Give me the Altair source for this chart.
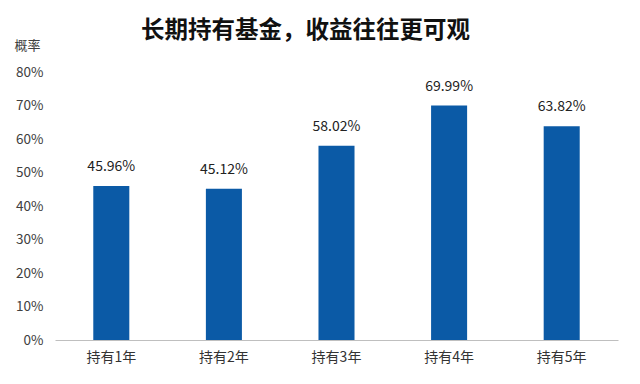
import altair as alt
import pandas as pd

categories = ["持有1年", "持有2年", "持有3年", "持有4年", "持有5年"]
probabilities = [45.96, 45.12, 58.02, 69.99, 63.82]
y_ticks = [0, 10, 20, 30, 40, 50, 60, 70, 80]

df = pd.DataFrame({"cat": categories, "p": probabilities})
df["label"] = df["p"].map(lambda v: f"{v:.2f}%")

FONT = "Noto Sans CJK SC"
BLUE = "#0B5AA6"

base = alt.Chart(df).encode(
    x=alt.X("cat:N", sort=categories, title=None,
            scale=alt.Scale(paddingInner=0.68, paddingOuter=0.34),
            axis=alt.Axis(labelAngle=0, labelFont=FONT, labelFontSize=14, labelColor="#333333",
                          ticks=False, domainColor="#BFBFBF", labelPadding=10)),
    y=alt.Y("p:Q", scale=alt.Scale(domain=[0, 80]), title="概率",
            axis=alt.Axis(values=y_ticks, labelExpr="datum.value + '%'", grid=False, domain=False,
                          ticks=False, labelFont=FONT, labelFontSize=13.5, labelColor="#404040",
                          labelPadding=12, titleAngle=0, titleAlign="left", titleBaseline="middle",
                          titleX=-41, titleY=-27, titleFont=FONT, titleFontSize=13,
                          titleFontWeight="normal", titleColor="#404040")),
)

bars = base.mark_bar(color=BLUE)
labels = base.mark_text(dy=-19, font=FONT, fontSize=14, color="#222222").encode(text="label:N")

chart = (bars + labels).properties(
    width=563, height=268,
    background="white",
    title=alt.TitleParams("长期持有基金，收益往往更可观", font=FONT, fontSize=23.5, fontWeight="bold",
                          color="#111111", anchor="middle", dx=-31, offset=-3),
    autosize=alt.AutoSizeParams(type="none"),
    padding={"left": 47, "top": 64, "right": 12, "bottom": 36},
).configure_view(stroke=None)

chart.save("out.html", embed_options={"renderer": "svg", "actions": False})
